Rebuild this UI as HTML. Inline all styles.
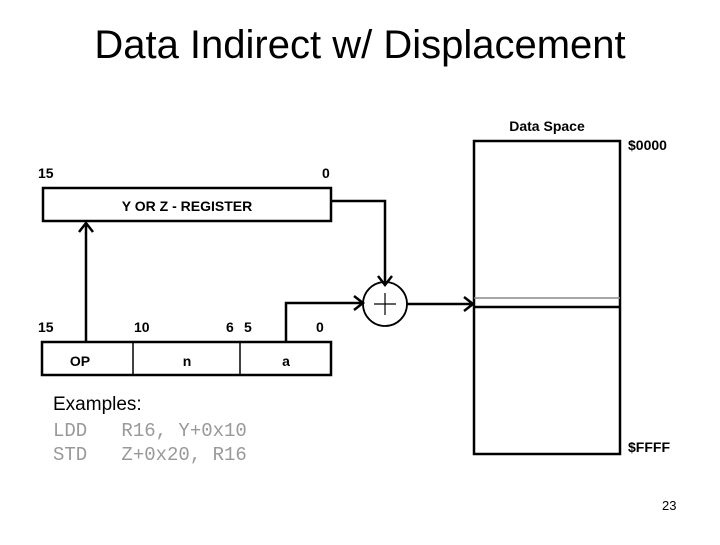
<!DOCTYPE html>
<html><head><style>
body{margin:0;background:#fff;}
svg text{font-family:"Liberation Sans",sans-serif;}
</style></head><body>
<svg width="720" height="540" xmlns="http://www.w3.org/2000/svg">
<text x="360" y="58" font-size="40" text-anchor="middle">Data Indirect w/ Displacement</text>
<g font-weight="bold" font-size="14">
<text x="38" y="178">15</text><text x="322" y="178">0</text>
<text x="38" y="332">15</text><text x="134" y="332">10</text><text x="226" y="332">6</text><text x="244" y="332">5</text><text x="316" y="332">0</text>
<text x="187" y="211" text-anchor="middle">Y OR Z - REGISTER</text>
<text x="80" y="366" text-anchor="middle">OP</text>
<text x="187" y="366" text-anchor="middle">n</text>
<text x="286" y="366" text-anchor="middle">a</text>
<text x="547" y="131" text-anchor="middle">Data Space</text>
<text x="628" y="150">$0000</text>
<text x="628" y="452">$FFFF</text>
</g>
<g fill="none" stroke="#000" stroke-width="2.5">
<rect x="43" y="188" width="288" height="33"/>
<rect x="42" y="342" width="289" height="33"/>
<line x1="133" y1="342" x2="133" y2="375" stroke-width="1.5"/>
<line x1="240" y1="342" x2="240" y2="375" stroke-width="1.5"/>
<path d="M86 342 V223 M79 232 L86 223 L93 232"/>
<path d="M331 201 H385 V284 M378 276 L385 285 L392 276"/>
<path d="M286 342 V303 H362 M354 296 L363 303 L354 310"/>
<circle cx="385" cy="304" r="22" stroke-width="1.8"/>
<path d="M407 304 H472 M464 297 L473 304 L464 311"/>
<rect x="474" y="141" width="146" height="313"/>
<line x1="474" y1="307" x2="620" y2="307"/>
</g>
<line x1="474" y1="298" x2="620" y2="298" stroke="#888" stroke-width="1.5"/>
<path d="M385 293 V315 M374 304 H396" stroke="#000" stroke-width="1.2"/>
<text x="53" y="410" font-size="19">Examples:</text>
<g font-size="19" fill="#999">
<text x="53" y="436" style="font-family:'Liberation Mono',monospace" xml:space="preserve">LDD   R16, Y+0x10</text>
<text x="53" y="460" style="font-family:'Liberation Mono',monospace" xml:space="preserve">STD   Z+0x20, R16</text>
</g>
<text x="662" y="510" font-size="13">23</text>
</svg>
</body></html>
